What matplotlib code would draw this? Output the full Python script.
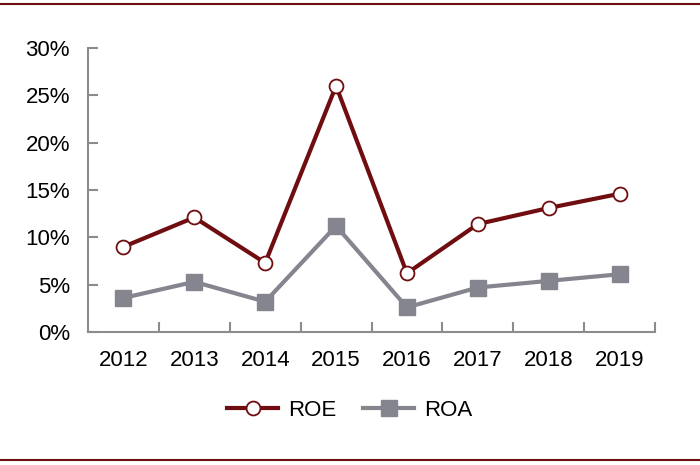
import matplotlib.pyplot as plt
from matplotlib.lines import Line2D
from matplotlib.ticker import FixedLocator, PercentFormatter

plt.rcParams['font.family'] = ['Liberation Sans', 'DejaVu Sans']

years = ['2012', '2013', '2014', '2015', '2016', '2017', '2018', '2019']
roe = [9.0, 12.1, 7.3, 26.0, 6.2, 11.4, 13.1, 14.6]
roa = [3.6, 5.3, 3.2, 11.2, 2.6, 4.7, 5.4, 6.1]

red = '#700d10'
grey = '#858590'
axis_grey = '#8c8c8c'

fig = plt.figure(figsize=(7, 4.65), dpi=100)
ax = fig.add_axes([88/700, 1-332/465, (655-88)/700, (332-48)/465])

x = range(len(years))
ax.plot(x, roe, color=red, lw=3, marker='o', ms=10, mfc='white',
        mec=red, mew=1.3, label='ROE', zorder=3)
ax.plot(x, roa, color=grey, lw=3, marker='s', ms=11, mfc=grey,
        mec=grey, label='ROA', zorder=2)

ax.set_xlim(-0.5, len(years) - 0.5)
ax.set_ylim(0, 30)
ax.set_yticks([0, 5, 10, 15, 20, 25, 30])
ax.yaxis.set_major_formatter(PercentFormatter(decimals=0))
ax.set_xticks(list(x))
ax.set_xticklabels(years)
ax.xaxis.set_minor_locator(FixedLocator([i + 0.5 for i in range(len(years))]))

for s in ['top', 'right']:
    ax.spines[s].set_visible(False)
for s in ['left', 'bottom']:
    ax.spines[s].set_color(axis_grey)
    ax.spines[s].set_linewidth(1.5)

ax.tick_params(axis='y', direction='in', length=7, width=1.5,
               color=axis_grey, labelsize=16, pad=13)
ax.tick_params(axis='x', which='major', length=0, labelsize=16, pad=13)
ax.tick_params(axis='x', which='minor', direction='in', length=7,
               width=1.5, color=axis_grey)

fig.legend(*ax.get_legend_handles_labels(), loc='center',
           bbox_to_anchor=(0.5, 1-410/465), ncol=2,
           frameon=False, fontsize=16, handlelength=2.3, columnspacing=1.2,
           handletextpad=0.45)

fig.add_artist(Line2D([0, 1], [1-4/465, 1-4/465], color=red, lw=1.5))
fig.add_artist(Line2D([0, 1], [1-460/465, 1-460/465], color=red, lw=1.5))

fig.savefig('out.png', dpi=100)
